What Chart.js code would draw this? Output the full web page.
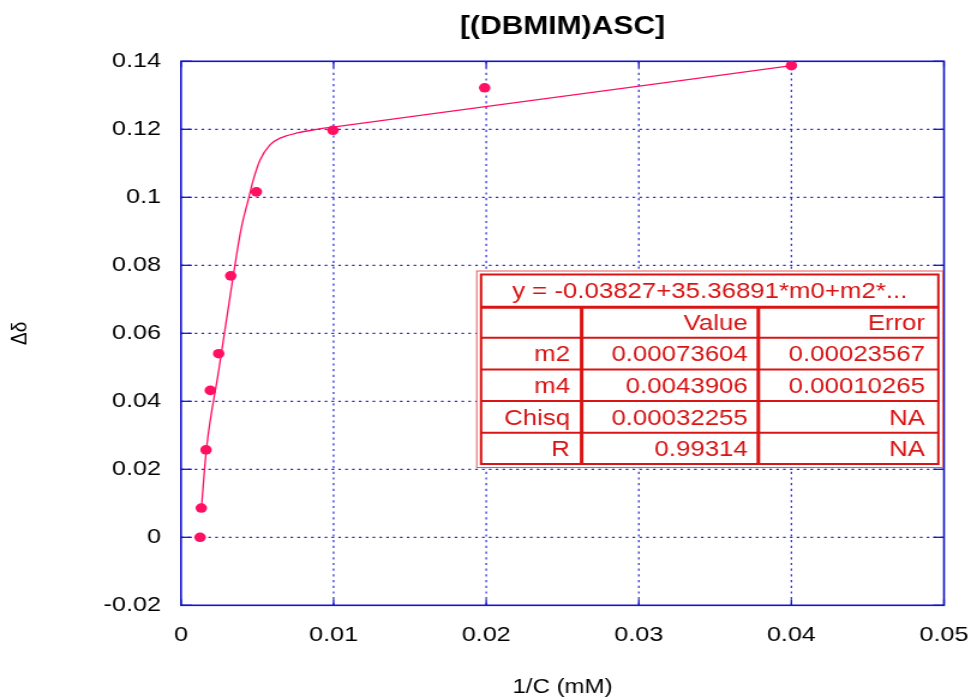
<!DOCTYPE html>
<html><head><meta charset="utf-8">
<script src="https://cdn.jsdelivr.net/npm/chart.js@4/dist/chart.umd.min.js"></script>
<style>
html,body{margin:0;padding:0;background:#fff;overflow:hidden;}
#wrap{width:809px;height:698px;transform:scaleX(1.20025);transform-origin:0 0;}
canvas{display:block;}
</style></head><body>
<div id="wrap"><canvas id="c" width="809" height="698" style="width:809px;height:698px"></canvas></div>
<script>
const chartTitle = '[(DBMIM)ASC]';
const xAxisTitle = '1/C (mM)';
const yAxisTitle = 'Δδ';

// measured points
const xValues = [0.00125, 0.00133, 0.00164, 0.00192, 0.00247, 0.00326, 0.00494, 0.00996, 0.0199, 0.0400];
const yValues = [0.0000, 0.0086, 0.0257, 0.0432, 0.0540, 0.0769, 0.1016, 0.1197, 0.1322, 0.1387];

// fitted curve
const fitX = [0.00134, 0.00166, 0.00247, 0.00328, 0.00393, 0.00446, 0.00474, 0.00518, 0.00583, 0.00649, 0.00769, 0.00889, 0.01020, 0.02069, 0.0400];
const fitY = [0.0086, 0.0257, 0.0490, 0.0727, 0.0905, 0.1002, 0.1052, 0.1110, 0.1154, 0.1174, 0.1190, 0.1200, 0.1208, 0.1271, 0.1387];

const xTickValues = [0, 0.01, 0.02, 0.03, 0.04, 0.05];
const xTickLabels = ['0', '0.01', '0.02', '0.03', '0.04', '0.05'];
const yTickValues = [-0.02, 0, 0.02, 0.04, 0.06, 0.08, 0.1, 0.12, 0.14];
const yTickLabels = ['-0.02', '0', '0.02', '0.04', '0.06', '0.08', '0.1', '0.12', '0.14'];

const tableTitle = 'y = -0.03827+35.36891*m0+m2*...';
const tableHeader = ['', 'Value', 'Error'];
const tableRowNames = ['m2', 'm4', 'Chisq', 'R'];
const tableValues = ['0.00073604', '0.0043906', '0.00032255', '0.99314'];
const tableErrors = ['0.00023567', '0.00010265', 'NA', 'NA'];

const FONT = "'Liberation Sans', Arial, Helvetica, sans-serif";
const AXIS = '#1414c8';
const GRID = '#2a2ad8';
const MARK = '#ff1063';
const RED = '#d91414';

const framePlugin = {
  id: 'frame',
  beforeDatasetsDraw(chart) {
    const {ctx, chartArea: a, scales: {x, y}} = chart;
    const line = (x1, y1, x2, y2) => { ctx.beginPath(); ctx.moveTo(x1, y1); ctx.lineTo(x2, y2); ctx.stroke(); };
    ctx.save();
    ctx.strokeStyle = GRID; ctx.lineWidth = 1.2; ctx.setLineDash([2.2, 3.5]);
    x.ticks.forEach(t => { const p = x.getPixelForValue(t.value); if (p > a.left + 1 && p < a.right - 1) line(p, a.top, p, a.bottom); });
    y.ticks.forEach(t => { const p = y.getPixelForValue(t.value); if (p > a.top + 1 && p < a.bottom - 1) line(a.left, p, a.right, p); });
    ctx.setLineDash([]);
    ctx.strokeStyle = AXIS; ctx.lineWidth = 1.3;
    x.ticks.forEach(t => { const p = x.getPixelForValue(t.value); line(p, a.bottom, p, a.bottom - 6); line(p, a.top, p, a.top + 6); });
    y.ticks.forEach(t => { const p = y.getPixelForValue(t.value); line(a.left, p, a.left + 9, p); line(a.right, p, a.right - 9, p); });
    ctx.lineWidth = 1.6;
    ctx.strokeRect(a.left, a.top, a.right - a.left, a.bottom - a.top);
    ctx.restore();
  },
  afterDatasetsDraw(chart) {
    const ctx = chart.ctx;
    ctx.save();
    const oL = 397.2, oR = 785.4, oT = 271, oB = 467.5;
    const iL = 400.8, iR = 781.8, iT = 274.5, iB = 464;
    ctx.fillStyle = '#fff';
    ctx.fillRect(oL, oT, oR - oL, oB - oT);
    ctx.strokeStyle = '#e85a5a'; ctx.lineWidth = 1;
    ctx.strokeRect(oL, oT, oR - oL, oB - oT);
    ctx.strokeStyle = RED; ctx.lineWidth = 2;
    ctx.strokeRect(iL, iT, iR - iL, iB - iT);
    const rowLines = [307.3, 337.8, 369.4, 401, 432.7];
    rowLines.forEach((ry, i) => {
      ctx.lineWidth = i === 0 ? 3 : 2;
      ctx.beginPath(); ctx.moveTo(iL, ry); ctx.lineTo(iR, ry); ctx.stroke();
    });
    ctx.lineWidth = 3;
    [484.6, 631.8].forEach(cx => { ctx.beginPath(); ctx.moveTo(cx, 307.3); ctx.lineTo(cx, iB); ctx.stroke(); });
    ctx.fillStyle = RED;
    ctx.font = `21.5px ${FONT}`;
    ctx.textBaseline = 'alphabetic';
    ctx.textAlign = 'center';
    ctx.fillText(tableTitle, (iL + iR) / 2, 298.3);
    const rights = [474.9, 623, 770.7];
    const bounds = [307.3, 337.8, 369.4, 401, 432.7, iB];
    const rows = [tableHeader].concat(tableRowNames.map((n, i) => [n, tableValues[i], tableErrors[i]]));
    ctx.textAlign = 'right';
    rows.forEach((r, i) => {
      const cy = (bounds[i] + bounds[i + 1]) / 2 + 7.7;
      r.forEach((txt, j) => ctx.fillText(txt, rights[j], cy));
    });
    ctx.restore();
  },
  afterDraw(chart) {
    const ctx = chart.ctx;
    ctx.save();
    ctx.fillStyle = '#000';
    ctx.font = `bold 25px ${FONT}`;
    ctx.textAlign = 'center';
    ctx.textBaseline = 'alphabetic';
    const a = chart.chartArea;
    ctx.fillText(chartTitle, (a.left + a.right) / 2, 34.3);
    ctx.restore();
  }
};

new Chart(document.getElementById('c'), {
  type: 'scatter',
  data: {
    datasets: [
      {
        label: 'data',
        data: xValues.map((v, i) => ({x: v, y: yValues[i]})),
        showLine: false,
        pointRadius: 4.8,
        pointBackgroundColor: MARK,
        pointBorderColor: MARK,
        pointBorderWidth: 0
      },
      {
        label: 'fit',
        data: fitX.map((v, i) => ({x: v, y: fitY[i]})),
        showLine: true,
        pointRadius: 0,
        borderColor: MARK,
        borderWidth: 1.3,
        cubicInterpolationMode: 'monotone',
        fill: false
      }
    ]
  },
  options: {
    responsive: false,
    animation: false,
    devicePixelRatio: 1,
    layout: {padding: {left: 0, right: 22.5, top: 61.3, bottom: 0}},
    plugins: {legend: {display: false}, tooltip: {enabled: false}, title: {display: false}},
    scales: {
      x: {
        type: 'linear', min: 0, max: 0.05,
        grid: {display: false, drawTicks: false},
        border: {display: false},
        afterBuildTicks: s => { s.ticks = xTickValues.map(v => ({value: v})); },
        ticks: {padding: 17.6, color: '#000', font: {family: FONT, size: 21}, maxRotation: 0, autoSkip: false,
                callback: (v, i) => xTickLabels[i]},
        title: {display: true, text: xAxisTitle, color: '#000', font: {family: FONT, size: 20, lineHeight: 1.1}, padding: {top: 0, bottom: 0}},
        afterFit: s => { s.height = 92.7; s.paddingLeft = 0; s.paddingRight = 0; }
      },
      y: {
        type: 'linear', min: -0.02, max: 0.14,
        grid: {display: false, drawTicks: false},
        border: {display: false},
        afterBuildTicks: s => { s.ticks = yTickValues.map(v => ({value: v})); },
        ticks: {padding: 16.6, color: '#000', font: {family: FONT, size: 21}, autoSkip: false,
                callback: (v, i) => yTickLabels[i]},
        title: {display: true, text: yAxisTitle, color: '#000', font: {family: FONT, size: 19}, padding: {top: 5.7, bottom: 0}},
        afterFit: s => { s.width = 150.8; s.paddingTop = 0; s.paddingBottom = 0; }
      }
    }
  },
  plugins: [framePlugin]
});
</script>
</body></html>
